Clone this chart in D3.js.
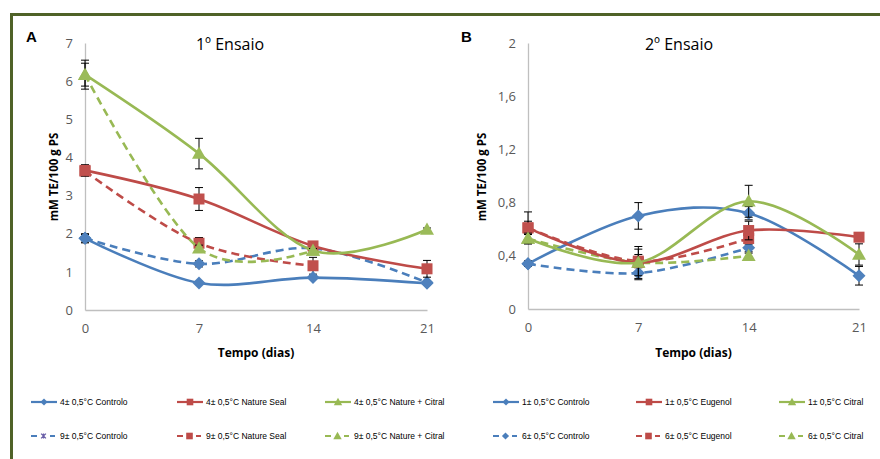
<!DOCTYPE html>
<html><head><meta charset="utf-8">
<script src="https://cdn.jsdelivr.net/npm/d3@7"></script>
<style>
body{margin:0;background:#fff;}
svg{display:block;font-family:"Open Sans","Noto Sans",sans-serif;}
</style></head><body>
<svg id="c" width="880" height="459"></svg>
<script>
// ---------- DATA ----------
const days = [0, 7, 14, 21];
const ticksA = [0, 1, 2, 3, 4, 5, 6, 7];
const ticksB = [0, 0.4, 0.8, 1.2, 1.6, 2];

// Panel A (1º Ensaio)
const a4Controlo   = [1.88, 0.71, 0.85, 0.70];
const a4ControloE  = [0.12, 0.04, 0.05, 0.04];
const a4Seal       = [3.66, 2.91, 1.68, 1.08];
const a4SealE      = [0.15, 0.30, 0.05, 0.22];
const a4Citral     = [6.17, 4.10, 1.56, 2.11];
const a4CitralE    = [0.38, 0.40, 0.05, 0.04];
const a9Controlo   = [1.88, 1.21, 1.62, 0.72];
const a9ControloE  = [0.10, 0.08, 0.06, 0.05];
const a9Seal       = [3.64, 1.75, 1.16];
const a9SealE      = [0.10, 0.15, 0.22];
const a9Citral     = [6.17, 1.62, 1.56];
const a9CitralE    = [0.30, 0.08, 0.05];

// Panel B (2º Ensaio)
const b1Controlo   = [0.34, 0.70, 0.72, 0.25];
const b1ControloE  = [0.02, 0.10, 0.05, 0.07];
const b1Eugenol    = [0.61, 0.35, 0.59, 0.54];
const b1EugenolE   = [0.12, 0.12, 0.07, 0.02];
const b1Citral     = [0.53, 0.35, 0.81, 0.41];
const b1CitralE    = [0.04, 0.10, 0.12, 0.08];
const b6Controlo   = [0.34, 0.27, 0.46];
const b6ControloE  = [0.02, 0.05, 0.03];
const b6Eugenol    = [0.61, 0.36, 0.53];
const b6EugenolE   = [0.05, 0.05, 0.04];
const b6Citral     = [0.53, 0.35, 0.40];
const b6CitralE    = [0.03, 0.03, 0.02];

const legendA = ["4\u00B1 0,5\u00B0C Controlo", "4\u00B1 0,5\u00B0C Nature Seal", "4\u00B1 0,5\u00B0C Nature + Citral",
                 "9\u00B1 0,5\u00B0C Controlo", "9\u00B1 0,5\u00B0C Nature Seal", "9\u00B1 0,5\u00B0C Nature + Citral"];
const legendB = ["1\u00B1 0,5\u00B0C Controlo", "1\u00B1 0,5\u00B0C Eugenol", "1\u00B1 0,5\u00B0C Citral",
                 "6\u00B1 0,5\u00B0C Controlo", "6\u00B1 0,5\u00B0C Eugenol", "6\u00B1 0,5\u00B0C Citral"];

// ---------- STYLE ----------
const BLUE = "#4a7ebb", RED = "#be4b48", GREEN = "#98b954";
const svg = d3.select("#c");

// frame (top and left borders)
svg.append("rect").attr("x", 10).attr("y", 13).attr("width", 870).attr("height", 3).attr("fill", "#4f6228");
svg.append("rect").attr("x", 10).attr("y", 13).attr("width", 3).attr("height", 446).attr("fill", "#4f6228");

function marker(g, type, x, y, color, size) {
  size = size || 1;
  if (type === "diamond") {
    const s = 6.5 * size;
    g.append("path").attr("d", `M${x},${y - s}L${x + s},${y}L${x},${y + s}L${x - s},${y}Z`).attr("fill", color);
  } else if (type === "square") {
    const s = 5.5 * size;
    g.append("rect").attr("x", x - s).attr("y", y - s).attr("width", 2 * s).attr("height", 2 * s).attr("fill", color);
  } else if (type === "triangle") {
    const s = 7 * size;
    g.append("path").attr("d", `M${x},${y - s}L${x + s},${y + s * 0.75}L${x - s},${y + s * 0.75}Z`).attr("fill", color);
  } else if (type === "star") {
    const s = 4 * size;
    g.append("path").attr("d", `M${x - s},${y - s}L${x + s},${y + s}M${x + s},${y - s}L${x - s},${y + s}M${x},${y - s}L${x},${y + s}`)
      .attr("stroke", "#6a5fa8").attr("stroke-width", 1.3).attr("fill", "none");
  }
}

function panel(opts) {
  const x = d3.scaleLinear().domain([0, 21]).range(opts.xr);
  const y = d3.scaleLinear().domain([0, opts.ymax]).range([opts.y0, 43]);
  const g = svg.append("g");

  // axes
  const ya = g.append("g").attr("transform", `translate(${opts.xr[0]},0)`)
    .call(d3.axisLeft(y).tickValues(opts.ticks).tickSize(0).tickPadding(12).tickFormat(opts.fmt));
  ya.select(".domain").attr("stroke", "#bfbfbf").attr("stroke-width", 1.3);
  ya.selectAll("text").attr("fill", "#595959").attr("font-size", 13).attr("font-family", "Open Sans, sans-serif");
  const xa = g.append("g").attr("transform", `translate(0,${opts.y0})`)
    .call(d3.axisBottom(x).tickValues(days).tickSize(0).tickPadding(14).tickFormat(d => d));
  xa.select(".domain").attr("stroke", "#bfbfbf").attr("stroke-width", 1.3);
  xa.selectAll("text").attr("fill", "#595959").attr("font-size", 13).attr("font-family", "Open Sans, sans-serif");

  // labels
  g.append("text").attr("x", opts.title[0]).attr("y", 50).attr("text-anchor", "middle")
    .attr("font-size", 16).attr("fill", "#000").text(opts.title[1]);
  g.append("text").attr("x", opts.letter[0]).attr("y", 42).attr("font-size", 15).attr("font-weight", "bold")
    .attr("font-family", "Liberation Sans, Arial, sans-serif").text(opts.letter[1]);
  g.append("text").attr("transform", `translate(${opts.ylabX},177) rotate(-90)`).attr("text-anchor", "middle")
    .attr("font-size", 11.5).attr("font-weight", "bold").text("mM TE/100 g PS");
  g.append("text").attr("x", (opts.xr[0] + opts.xr[1]) / 2).attr("y", 357).attr("text-anchor", "middle")
    .attr("font-size", 12).attr("font-weight", "bold").text("Tempo (dias)");

  const line = d3.line().x((d, i) => x(days[i])).y(d => y(d)).curve(d3.curveCatmullRom.alpha(0));

  opts.series.forEach(s => {
    const sg = g.append("g");
    sg.append("path").attr("d", line(s.v)).attr("fill", "none").attr("stroke", s.c)
      .attr("stroke-width", 2.6).attr("stroke-dasharray", s.dash ? "8,5" : null);
    s.v.forEach((v, i) => {
      const cx = x(days[i]);
      const e = s.e[i];
      const eg = sg.append("g").attr("stroke", "#000").attr("stroke-width", 1);
      eg.append("line").attr("x1", cx).attr("x2", cx).attr("y1", y(v + e)).attr("y2", y(v - e));
      eg.append("line").attr("x1", cx - 4).attr("x2", cx + 4).attr("y1", y(v + e)).attr("y2", y(v + e));
      eg.append("line").attr("x1", cx - 4).attr("x2", cx + 4).attr("y1", y(v - e)).attr("y2", y(v - e));
      marker(sg, s.m, cx, y(v), s.mc || s.c);
    });
  });
}

panel({
  xr: [85, 427], y0: 310, ymax: 7, ticks: ticksA, fmt: d => d,
  title: [230, "1\u00BA Ensaio"], letter: [26, "A"], ylabX: 58,
  series: [
    {v: a9Controlo, e: a9ControloE, c: BLUE, m: "diamond", dash: true, mc: "#4f81bd"},
    {v: a9Seal, e: a9SealE, c: RED, m: "square", dash: true, mc: "#c0504d"},
    {v: a9Citral, e: a9CitralE, c: GREEN, m: "triangle", dash: true, mc: "#9bbb59"},
    {v: a4Controlo, e: a4ControloE, c: BLUE, m: "diamond", mc: "#4f81bd"},
    {v: a4Seal, e: a4SealE, c: RED, m: "square", mc: "#c0504d"},
    {v: a4Citral, e: a4CitralE, c: GREEN, m: "triangle", mc: "#9bbb59"}
  ]
});

panel({
  xr: [528, 859], y0: 309, ymax: 2, ticks: ticksB, fmt: d => d3.format("")(d).replace(".", ","),
  title: [679, "2\u00BA Ensaio"], letter: [461, "B"], ylabX: 486,
  series: [
    {v: b6Controlo, e: b6ControloE, c: BLUE, m: "diamond", dash: true, mc: "#4f81bd"},
    {v: b6Eugenol, e: b6EugenolE, c: RED, m: "square", dash: true, mc: "#c0504d"},
    {v: b6Citral, e: b6CitralE, c: GREEN, m: "triangle", dash: true, mc: "#9bbb59"},
    {v: b1Controlo, e: b1ControloE, c: BLUE, m: "diamond", mc: "#4f81bd"},
    {v: b1Eugenol, e: b1EugenolE, c: RED, m: "square", mc: "#c0504d"},
    {v: b1Citral, e: b1CitralE, c: GREEN, m: "triangle", mc: "#9bbb59"}
  ]
});

// ---------- LEGEND ----------
const legX = [31, 177, 325, 493, 636, 779];
const legY = [402, 436];
const legItems = [];
const cols = [BLUE, RED, GREEN];
const mks = ["diamond", "square", "triangle"];
[legendA, legendB].forEach((labels, p) => {
  labels.forEach((t, i) => {
    const row = i < 3 ? 0 : 1, col = i % 3;
    legItems.push({t, x: legX[p * 3 + col], y: legY[row], c: cols[col], m: (p === 0 && i === 3) ? "star" : mks[col], dash: row === 1});
  });
});
const lg = svg.append("g");
legItems.forEach(d => {
  if (d.dash) {
    lg.append("line").attr("x1", d.x).attr("x2", d.x + 6).attr("y1", d.y).attr("y2", d.y).attr("stroke", d.c).attr("stroke-width", 2);
    lg.append("line").attr("x1", d.x + 19).attr("x2", d.x + 24).attr("y1", d.y).attr("y2", d.y).attr("stroke", d.c).attr("stroke-width", 2);
  } else {
    lg.append("line").attr("x1", d.x).attr("x2", d.x + 26).attr("y1", d.y).attr("y2", d.y).attr("stroke", d.c).attr("stroke-width", 2.2);
  }
  marker(lg, d.m, d.dash ? d.x + 12.5 : d.x + 13, d.y, d.c, d.m === "diamond" ? 0.55 : 0.6);
  lg.append("text").attr("x", d.x + 29).attr("y", d.y + 3).attr("font-size", 8.5)
    .attr("font-family", "Liberation Sans Narrow, Liberation Sans, sans-serif").attr("fill", "#000").text(d.t);
});
</script>
</body></html>
